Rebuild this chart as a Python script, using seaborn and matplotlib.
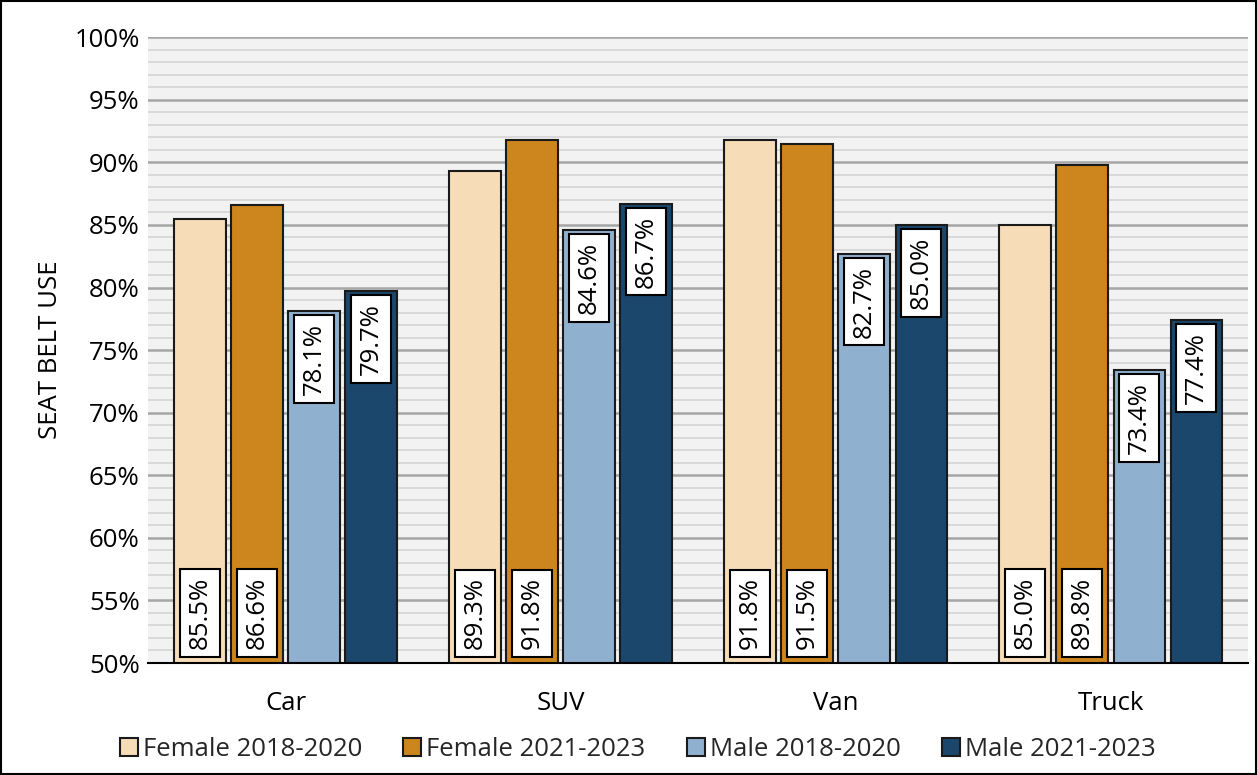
import matplotlib
matplotlib.use("Agg")
import matplotlib.pyplot as plt
import matplotlib.ticker as mticker
from matplotlib.patches import Rectangle
import seaborn as sns
import pandas as pd

vehicles = ["Car", "SUV", "Van", "Truck"]
series = ["Female 2018-2020", "Female 2021-2023", "Male 2018-2020", "Male 2021-2023"]
female_1820 = [85.5, 89.3, 91.8, 85.0]
female_2123 = [86.6, 91.8, 91.5, 89.8]
male_1820 = [78.1, 84.6, 82.7, 73.4]
male_2123 = [79.7, 86.7, 85.0, 77.4]
colors = ["#F6DCB7", "#CD851D", "#8FB0CE", "#1A476B"]
yticks = list(range(50, 101, 5))

rows = []
for s, vals in zip(series, [female_1820, female_2123, male_1820, male_2123]):
    for v, val in zip(vehicles, vals):
        rows.append({"Vehicle": v, "Series": s, "Value": val})
df = pd.DataFrame(rows)

sns.set_theme(style="white")
plt.rcParams["font.family"] = ["Open Sans", "DejaVu Sans"]

FS = 18.5

fig = plt.figure(figsize=(12.57, 7.75), dpi=100)
ax = fig.add_axes([0.1177, 0.1445, 0.8753, 0.8075])
ax.set_facecolor("#F2F2F2")

sns.barplot(data=df, x="Vehicle", y="Value", hue="Series", order=vehicles,
            hue_order=series, palette=colors, saturation=1, width=0.83, gap=0.1,
            edgecolor="#1a1a1a", linewidth=1.5, ax=ax, legend=True, zorder=3)

ax.set_ylim(50, 100)
ax.set_yticks(yticks)
ax.yaxis.set_major_formatter(mticker.FuncFormatter(lambda v, p: f"{v:.0f}%"))
ax.yaxis.set_minor_locator(mticker.MultipleLocator(1))
ax.grid(which="minor", axis="y", color="#D4D4D4", linewidth=1.2, zorder=0)
ax.grid(which="major", axis="y", color="#A6A6A6", linewidth=1.8, zorder=0)
ax.set_axisbelow(True)
for sp in ["left", "right", "top"]:
    ax.spines[sp].set_visible(False)
ax.spines["bottom"].set_color("black")
ax.spines["bottom"].set_linewidth(1.5)
ax.spines["bottom"].set_zorder(5)
ax.tick_params(axis="both", which="both", length=0, labelsize=FS, colors="black")
ax.tick_params(axis="y", pad=6)
ax.tick_params(axis="x", pad=20)
ax.set_xlabel("")
ax.set_ylabel("SEAT BELT USE", fontsize=FS, color="black", labelpad=8)

for i, cont in enumerate(ax.containers):
    for bar, val in zip(cont, cont.datavalues):
        xc = bar.get_x() + bar.get_width() / 2
        if i < 2:
            ax.text(xc, 51.1, f"{val:.1f}%", rotation=90, ha="center", va="bottom",
                    fontsize=FS, color="black", zorder=6,
                    bbox=dict(boxstyle="square,pad=0.3", fc="white", ec="black", lw=1.5))
        else:
            ax.text(xc, val - 0.95, f"{val:.1f}%", rotation=90, ha="center", va="top",
                    fontsize=FS, color="black", zorder=6,
                    bbox=dict(boxstyle="square,pad=0.3", fc="white", ec="black", lw=1.5))

handles, labels = ax.get_legend_handles_labels()
ax.legend(handles, labels, loc="lower center", bbox_to_anchor=(0.445, -0.178), ncol=4,
          frameon=False, fontsize=FS, handlelength=0.7, handleheight=0.7,
          handletextpad=0.2, columnspacing=1.6, borderpad=0)

fig.patches.append(Rectangle((0.0008, 0.0013), 0.9984, 0.9974, transform=fig.transFigure,
                             fill=False, edgecolor="black", linewidth=1.5))

fig.savefig("out.png", dpi=100)
